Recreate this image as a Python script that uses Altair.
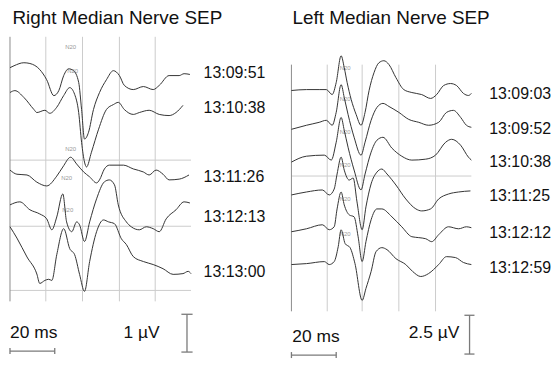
import altair as alt
import pandas as pd

FONT = "Liberation Sans"
TRACE = "#333333"
GRID = "#cccccc"
BORDER = "#8c8c8c"
BAR = "#7a7a7a"
TXT = "#111111"

# ---------------- Right Median Nerve SEP (scale: 1 µV) ----------------
left_labels = ["13:09:51", "13:10:38", "13:11:26", "13:12:13", "13:13:00"]
left_offsets = [7.763, 7.105, 5.053, 4.132, 3.553]          # trace baselines, µV
left_label_v = [7.632, 6.684, 4.868, 3.816, 2.342]
left_label_t = 86.5
left_t = [
    [0, 1.8, 6.2, 8.9, 13.3, 16.4, 19.6, 21.8, 24.0, 26.2, 28.4, 30.7, 32.0, 33.3, 35.1,
     37.3, 40.0, 43.1, 46.2, 48.9, 51.1, 55.1, 59.6, 64.0, 66.7, 71.1, 75.6, 77.8, 80.4],
    [0, 2.2, 6.2, 10.7, 12.0, 15.6, 17.8, 20.9, 24.0, 26.7, 28.9, 30.7, 32.0, 33.3, 34.2,
     36.4, 39.6, 43.1, 46.2, 48.4, 51.1, 55.1, 57.8, 62.2, 66.7, 71.1, 74.2, 77.3],
    [0, 3.1, 7.6, 12.0, 16.4, 20.9, 23.6, 27.1, 29.8, 32.9, 35.6, 38.7, 40.0, 42.2, 44.4,
     50.7, 55.1, 59.6, 62.2, 65.3, 68.4, 71.1, 75.6, 80.0],
    [0, 4.4, 8.9, 13.3, 16.4, 18.7, 20.9, 23.6, 25.3, 27.6, 29.8, 31.1, 33.3, 35.6, 38.7,
     42.2, 44.4, 46.7, 48.4, 52.0, 54.2, 57.8, 60.9, 64.0, 66.7, 69.8, 74.2, 77.8, 80.4],
    [0, 3.1, 7.6, 12.0, 13.3, 15.6, 17.3, 18.7, 20.9, 24.0, 26.7, 28.9, 31.1, 33.3, 35.6,
     38.7, 41.8, 44.0, 46.7, 49.8, 52.0, 55.1, 59.6, 64.0, 68.4, 72.9, 77.3, 79.6, 80.9],
]
left_a = [
    [0, 0.05, 0.13, 0.11, -0.05, -0.32, -0.74, -0.61, -0.21, -0.03, -0.08, -0.39, -1.11, -1.89, -1.71,
     -1.11, -0.66, -0.32, -0.08, -0.21, -0.47, -0.58, -0.50, -0.58, -0.47, -0.21, -0.21, -0.16, -0.18],
    [0, 0.05, -0.13, -0.45, -0.53, -0.47, -0.55, -0.39, -0.08, 0.13, -0.05, -0.53, -1.32, -1.84, -1.97,
     -1.58, -0.97, -0.45, -0.32, -0.26, -0.45, -0.58, -0.53, -0.47, -0.58, -0.61, -0.53, -0.34],
    [0, -0.11, -0.13, -0.32, -0.42, -0.16, 0.08, 0.34, 0.16, -0.05, -0.18, -0.34, -0.26, 0.03, 0.13,
     0.13, 0.03, -0.05, -0.13, 0, -0.11, -0.26, -0.24, -0.13],
    [0, 0.08, -0.13, -0.24, -0.37, -0.66, -0.32, 0.29, -0.45, -0.71, -0.45, -0.53, -0.97, -0.45, 0.16,
     0.61, 0.66, 0.53, 0, -0.45, -0.58, -0.66, -0.58, -0.63, -0.71, -0.37, -0.13, 0.08, 0.05],
    [0, -0.30, -0.80, -1.25, -1.50, -1.42, -1.39, -1.42, -0.74, -0.05, -0.58, -0.74, -1.26, -1.71, -0.92,
     -0.13, 0.18, 0.13, 0.08, -0.32, -0.47, -0.79, -0.92, -1.00, -1.11, -1.26, -1.24, -1.18, -1.24],
]
left_n20_t = [27.1, 28.0, 27.1, 25.3, 25.8]
left_n20_v = [8.316, 7.684, 5.605, 4.842, 4.0]
left_vgrid_t = [16.0, 32.4, 48.9, 64.9]
left_vgrid_span = [1.579, 8.579]
left_hgrid_v = [5.316, 3.566, 1.868]
left_hgrid_end = 80.9
# scale bar: 20 ms and 1 µV  (t, t2, v, v2)
left_bars = [(0, 20, 0.263, 0.263), (0, 0, 0.184, 0.342), (20, 20, 0.184, 0.342),
             (79.1, 79.1, 0.237, 1.237), (76.6, 81.6, 0.237, 0.237), (76.6, 81.6, 1.237, 1.237)]
left_bar_text = [("20 ms", 0, 0.605), ("1 µV", 50.7, 0.605)]

# ---------------- Left Median Nerve SEP (scale: 2.5 µV) ----------------
right_labels = ["13:09:03", "13:09:52", "13:10:38", "13:11:25", "13:12:12", "13:12:59"]
right_offsets = [17.436, 14.936, 12.821, 10.705, 8.333, 6.218]
right_label_v = [17.179, 14.936, 12.821, 10.641, 8.269, 6.026]
right_label_t = 88.4
right_t = [
    [0, 6.7, 12.4, 15.6, 18.2, 20.0, 22.2, 23.6, 24.9, 26.7, 28.9, 31.1, 32.9, 34.7, 36.9,
     39.1, 41.3, 43.6, 46.7, 50.2, 53.8, 58.2, 62.2, 64.9, 68.0, 71.1, 73.8, 76.9, 79.1, 80.4],
    [0, 6.7, 12.4, 15.6, 18.2, 20.0, 22.2, 23.6, 25.3, 28.0, 31.1, 32.9, 35.6, 38.2, 40.9,
     43.6, 48.0, 52.4, 56.9, 61.3, 65.8, 69.3, 72.4, 75.6, 78.2, 80.4],
    [0, 6.7, 14.7, 17.8, 20.0, 22.2, 23.6, 25.3, 28.0, 31.1, 32.9, 35.6, 38.2, 40.9, 44.9,
     49.3, 53.8, 60.0, 64.4, 68.9, 71.6, 75.6, 79.1, 80.4],
    [0, 6.7, 13.8, 16.9, 19.1, 20.4, 22.2, 23.6, 25.8, 27.6, 29.3, 31.6, 33.3, 35.6, 38.2,
     40.4, 42.7, 46.7, 51.1, 55.6, 58.2, 62.2, 65.8, 70.2, 74.7, 80.0],
    [0, 6.7, 13.8, 16.9, 19.1, 20.4, 22.2, 23.6, 25.8, 28.0, 29.8, 31.6, 33.3, 35.6, 38.2,
     40.4, 44.9, 49.3, 53.8, 56.9, 60.0, 62.7, 65.8, 70.2, 74.7, 78.2, 80.4],
    [0, 6.7, 14.7, 16.9, 19.1, 20.9, 22.2, 24.0, 26.2, 28.4, 31.6, 33.3, 35.6, 37.8, 40.4,
     42.7, 46.7, 51.1, 54.2, 57.8, 61.3, 65.8, 69.3, 73.3, 76.9, 80.4],
]
right_a = [
    [0, 0.06, 0.06, 0.06, -0.26, 0.51, 2.24, 1.47, 0.51, -0.58, -1.54, -2.24, -1.41, 0, 1.15,
     1.79, 1.92, 1.67, 0.83, 0.06, -0.13, -0.26, -0.51, -0.26, 0.32, 0.45, 0.32, -0.19, -0.32, -0.19],
    [0, 0.26, 0.45, 0.58, 0.26, 1.09, 2.88, 2.05, 0.96, -0.51, -1.67, -0.83, 0.58, 1.41, 1.67,
     1.47, 1.09, 0.64, 0.45, 0.26, 0.45, 1.09, 1.22, 0.77, 0.26, 0.13],
    [0, 0.38, 0.45, 0.13, 1.28, 2.88, 2.05, 0.96, -0.51, -1.79, -0.77, 0.64, 1.41, 1.60, 0.90,
     0.38, 0.13, 0.19, 0.45, 1.28, 1.47, 1.09, 0.32, 0.13],
    [0, 0.19, 0.32, 0, 0.38, 1.35, 2.44, 1.60, 0.96, 1.09, -0.45, -2.24, -0.77, 0.71, 1.47,
     1.67, 1.35, 0.64, -0.26, -0.90, -1.03, -0.90, -0.26, 0.06, 0.19, 0.26],
    [0, 0.19, 0.45, 0.13, 0.32, 1.47, 2.56, 1.73, 1.09, 0.96, -0.32, -1.92, -0.64, 0.77, 1.47,
     1.47, 0.96, 0.32, -0.32, -0.38, -0.45, -0.64, -0.19, 0.32, 0.19, 0.32, 0.26],
    [0, 0.06, 0.19, 0, 0.19, 1.15, 2.24, 1.35, 1.09, 0.06, -2.31, -1.54, -0.45, 0.83, 1.09,
     0.96, 0.38, 0, -0.45, -0.77, -0.58, 0, 0.51, 0.45, 0.13, 0],
]
right_n20_t = [24.0] * 6
right_n20_v = [18.91, 16.86, 14.74, 12.63, 10.45, 8.21]
right_vgrid_t = [16.0, 31.6, 48.0, 64.4]
right_vgrid_span = [3.205, 19.103]
right_hgrid_v = [11.923]
right_hgrid_end = 80.4
right_bars = [(0, 20, 0.385, 0.385), (0, 0, 0.192, 0.577), (20, 20, 0.192, 0.577),
              (79.6, 79.6, 0.449, 2.949), (77.3, 81.8, 0.449, 0.449), (77.3, 81.8, 2.949, 2.949)]
right_bar_text = [("20 ms", 0.4, 1.218), ("2.5 µV", 52.4, 1.474)]

# ---------------- layout (scale set-up) ----------------
PX_PER_MS = 2.25
PANEL_W = 272
PLOT_TOP = 28       # page px where plot area starts (below title)
PLOT_BOTTOM = 358   # page px where plot area ends
REF = 360           # page px of v = 0


def panel(title, dx, x0, px_per_uv, labels, offsets, label_v, label_t, ts, amps,
          n20_t, n20_v, vgrid_t, vspan, hgrid_v, hgrid_end, bars, bar_text):
    xdom = [-x0 / PX_PER_MS, (PANEL_W - x0) / PX_PER_MS]
    ydom = [(REF - PLOT_BOTTOM) / px_per_uv, (REF - PLOT_TOP) / px_per_uv]
    X = lambda f: alt.X(f, type="quantitative", scale=alt.Scale(domain=xdom, nice=False, zero=False), axis=None)
    Y = lambda f: alt.Y(f, type="quantitative", scale=alt.Scale(domain=ydom, nice=False, zero=False), axis=None)

    rows = []
    for lab, off, tt, aa in zip(labels, offsets, ts, amps):
        for i, (t, a) in enumerate(zip(tt, aa)):
            rows.append({"trace": lab, "i": i, "t": t, "v": off + a})
    tr = pd.DataFrame(rows)

    vg = pd.DataFrame({"t": vgrid_t, "v": vspan[0], "v2": vspan[1]})
    border = pd.DataFrame({"t": [0.0], "v": [vspan[0]], "v2": [vspan[1]]})
    hg = pd.DataFrame({"t": 0.0, "t2": hgrid_end, "v": hgrid_v})
    bdf = pd.DataFrame(bars, columns=["t", "t2", "v", "v2"])
    btx = pd.DataFrame(bar_text, columns=["txt", "t", "v"])
    lab = pd.DataFrame({"txt": labels, "t": label_t, "v": label_v})
    n20 = pd.DataFrame({"txt": "N20", "t": n20_t, "v": n20_v})

    layers = [
        alt.Chart(vg).mark_rule(color=GRID, strokeWidth=1).encode(x=X("t"), y=Y("v"), y2="v2"),
        alt.Chart(hg).mark_rule(color=GRID, strokeWidth=1).encode(x=X("t"), x2="t2", y=Y("v")),
        alt.Chart(border).mark_rule(color=BORDER, strokeWidth=1).encode(x=X("t"), y=Y("v"), y2="v2"),
        alt.Chart(n20).mark_text(fontSize=6, font=FONT, color="#999999").encode(x=X("t"), y=Y("v"), text="txt"),
        alt.Chart(tr).mark_line(color=TRACE, strokeWidth=1.0, interpolate="monotone").encode(
            x=X("t"), y=Y("v"), detail="trace:N", order="i:Q"),
        alt.Chart(bdf).mark_rule(color=BAR, strokeWidth=1.3).encode(x=X("t"), x2="t2", y=Y("v"), y2="v2"),
        alt.Chart(btx).mark_text(align="left", baseline="alphabetic", fontSize=17.5, font=FONT, color=TXT).encode(
            x=X("t"), y=Y("v"), text="txt"),
        alt.Chart(lab).mark_text(align="left", baseline="middle", fontSize=16, font=FONT, color=TXT).encode(
            x=X("t"), y=Y("v"), text="txt"),
    ]
    return alt.layer(*layers).properties(
        width=PANEL_W,
        height=PLOT_BOTTOM - PLOT_TOP,
        title=alt.TitleParams(text=title, anchor="start", fontSize=19, font=FONT, fontWeight="normal",
                              color=TXT, dx=dx, dy=-2, offset=1, baseline="top"),
    )


left = panel("Right Median Nerve SEP", 4.5, 1, 38.0, left_labels, left_offsets, left_label_v, left_label_t,
             left_t, left_a, left_n20_t, left_n20_v, left_vgrid_t, left_vgrid_span, left_hgrid_v,
             left_hgrid_end, left_bars, left_bar_text)
right = panel("Left Median Nerve SEP", 13, 12, 15.6, right_labels, right_offsets, right_label_v, right_label_t,
              right_t, right_a, right_n20_t, right_n20_v, right_vgrid_t, right_vgrid_span, right_hgrid_v,
              right_hgrid_end, right_bars, right_bar_text)

chart = alt.hconcat(left, right, spacing=0).properties(padding=0).configure_view(stroke=None)
chart.save("out.html", embed_options={"renderer": "svg", "actions": False})
